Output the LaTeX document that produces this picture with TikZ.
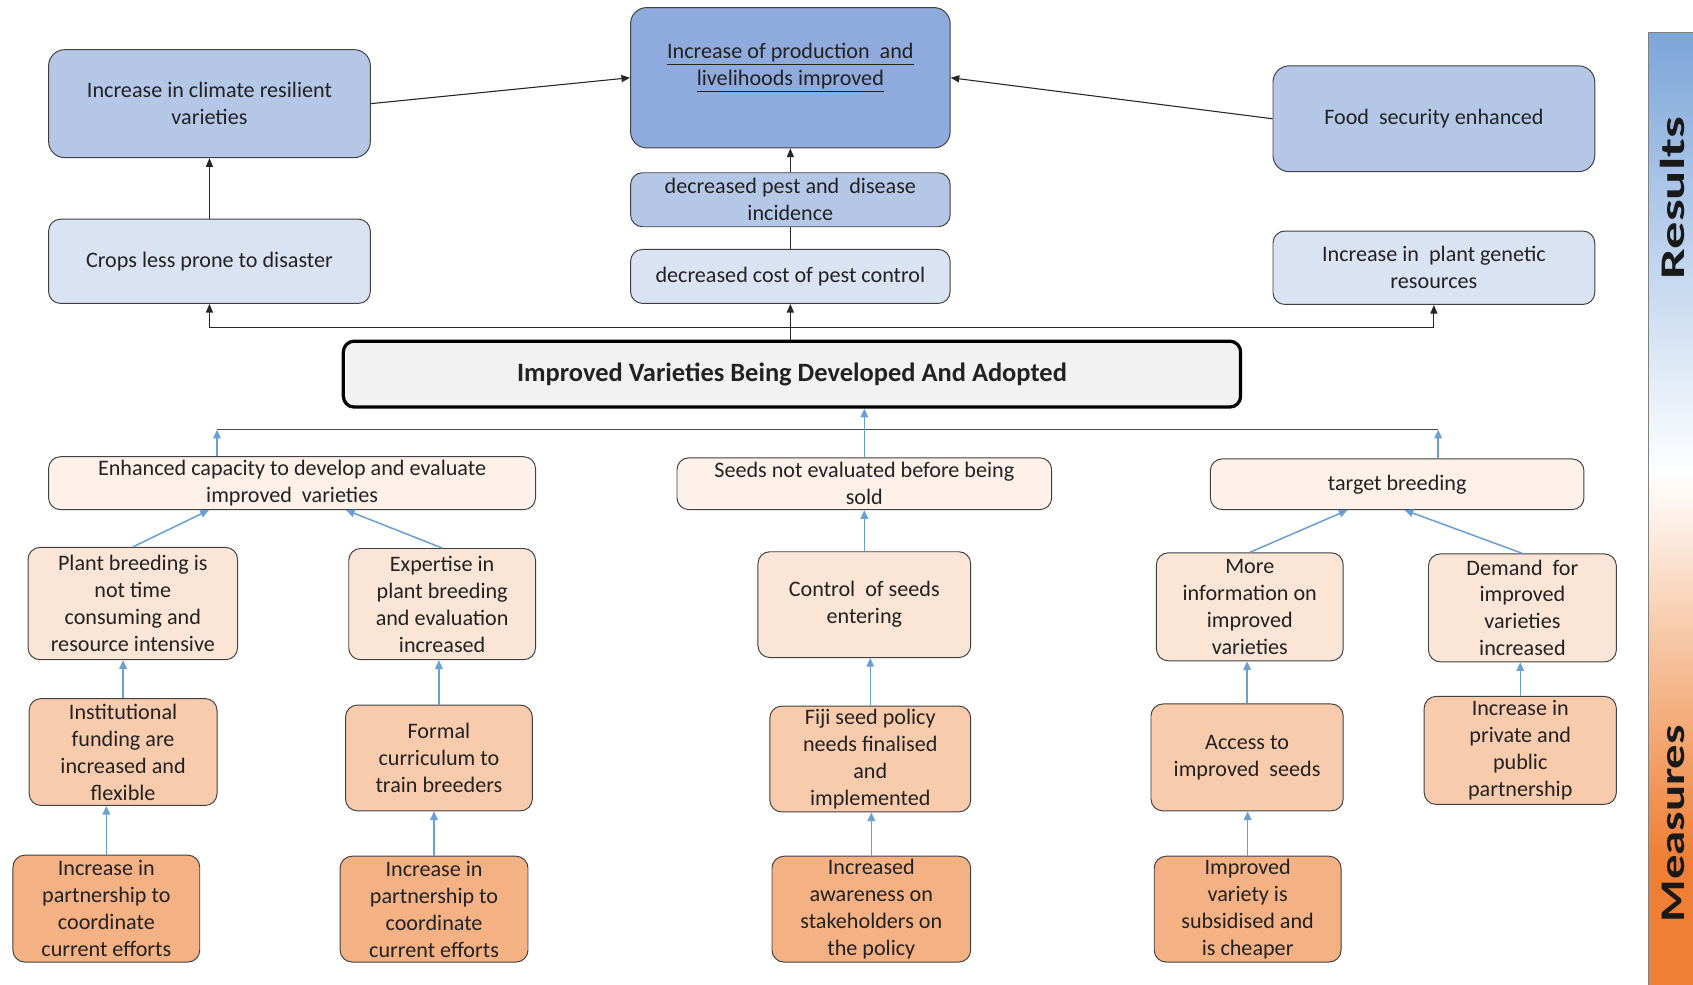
\documentclass[tikz,border=0pt]{standalone}
\usepackage{fontspec}
\usepackage{graphicx}
\setmainfont{Carlito}
\usetikzlibrary{arrows.meta}

\definecolor{txt}{HTML}{222222}
\definecolor{resA}{HTML}{8FAADC}
\definecolor{resB}{HTML}{B4C7E7}
\definecolor{resC}{HTML}{DAE3F3}
\definecolor{meaA}{HTML}{FDF1EA}
\definecolor{meaB}{HTML}{FBE5D6}
\definecolor{meaC}{HTML}{F8CBAD}
\definecolor{meaD}{HTML}{F4B183}
\definecolor{link}{HTML}{6A9FD4}
\definecolor{sbBlue}{HTML}{7CA5D9}
\definecolor{sbLight}{HTML}{C6D9F0}
\definecolor{sbPeach}{HTML}{F6C4A0}
\definecolor{sbOrange}{HTML}{EE7F35}

% side bar: orange at the bottom, white around the middle, blue at the top
\pgfdeclareverticalshading{sidebar}{100bp}{color(0bp)=(sbOrange); color(32bp)=(sbOrange); color(43bp)=(sbPeach); color(52bp)=(white); color(62bp)=(sbLight); color(75bp)=(sbBlue); color(100bp)=(sbBlue)}

\tikzset{
  box/.style={draw=black!75, line width=0.9pt, rounded corners=11pt, align=center,
    text=txt, inner sep=0pt, font=\fontsize{20.5}{25}\selectfont},
  bigbox/.style={box, rounded corners=15pt},
  blk/.style={draw=black!85, line width=1pt, -{Triangle[length=8pt,width=6.5pt]}},
  blkline/.style={draw=black!85, line width=1pt},
  blu/.style={draw=link, line width=1.4pt, -{Triangle[length=8pt,width=7pt]}},
  bus/.style={draw=black!70, line width=1pt},
  sidelabel/.style={rotate=90, anchor=base, inner sep=0pt, text=black!90,
    font=\bfseries\fontsize{32}{38}\selectfont},
}

\begin{document}
\begin{tikzpicture}[x=1pt,y=1pt]
\useasboundingbox (0,0) rectangle (1568,-912);

% ---------- results ----------
\node[bigbox, fill=resB, minimum width=298pt, minimum height=100pt] (clim) at (194,-96)
  {Increase in climate resilient\\varieties};
\node[bigbox, fill=resA, minimum width=296pt, minimum height=130pt] (prod) at (732,-72)
  {\underline{Increase of production\ \ and}\\\underline{livelihoods improved}\\[-8pt]\strut};
\node[bigbox, fill=resB, minimum width=298pt, minimum height=98pt] (food) at (1328,-110)
  {Food\ \ security enhanced};
\node[box, fill=resB, minimum width=296pt, minimum height=50pt] (pest) at (732,-185)
  {decreased pest and\ \ disease\\incidence};
\node[box, fill=resC, minimum width=296pt, minimum height=50pt] (cost) at (732,-256)
  {decreased cost of pest control};
\node[box, fill=resC, minimum width=298pt, minimum height=78pt] (crops) at (194,-242)
  {Crops less prone\ to disaster};
\node[box, fill=resC, minimum width=298pt, minimum height=68pt] (genetic) at (1328,-248)
  {Increase in\ \ plant genetic\\resources};

% ---------- core ----------
\node[box, draw=black, line width=3pt, rounded corners=10pt, fill=black!5,
  minimum width=831pt, minimum height=61pt, font=\bfseries\fontsize{24.5}{28}\selectfont] (core)
  at (733.5,-346.5) {Improved Varieties Being Developed And Adopted};

% ---------- measures ----------
\node[box, fill=meaA, minimum width=451pt, minimum height=49pt] (cap) at (270.5,-447.5)
  {Enhanced capacity to develop and evaluate\\improved\ \ varieties};
\node[box, fill=meaA, minimum width=347pt, minimum height=48pt] (seeds) at (800.5,-448)
  {Seeds not evaluated before being\\sold};
\node[box, fill=meaA, minimum width=346pt, minimum height=47pt] (target) at (1294,-448.5)
  {target breeding};

\node[box, fill=meaB, minimum width=194pt, minimum height=104pt] (plant) at (123,-559)
  {Plant breeding is\\not time\\consuming and\\resource intensive};
\node[box, fill=meaB, minimum width=173pt, minimum height=103pt] (expert) at (409.5,-559.5)
  {Expertise in\\plant breeding\\and evaluation\\increased};
\node[box, fill=meaB, minimum width=197pt, minimum height=98pt] (control) at (800.5,-560)
  {Control\ \ of seeds\\entering};
\node[box, fill=meaB, minimum width=173pt, minimum height=100pt] (info) at (1157.5,-562)
  {More\\information on\\improved\\varieties};
\node[box, fill=meaB, minimum width=174pt, minimum height=100pt] (demand) at (1410,-563)
  {Demand\ \ for\\improved\\varieties\\increased};

\node[box, fill=meaC, minimum width=174pt, minimum height=99pt] (inst) at (114,-696.5)
  {Institutional\\funding are\\increased and\\flexible};
\node[box, fill=meaC, minimum width=173pt, minimum height=98pt] (formal) at (406.5,-702)
  {Formal\\curriculum to\\train breeders};
\node[box, fill=meaC, minimum width=186pt, minimum height=98pt] (fiji) at (806,-703)
  {Fiji seed policy\\needs finalised\\and\\implemented};
\node[box, fill=meaC, minimum width=178pt, minimum height=99pt] (access) at (1155,-701.5)
  {Access to\\improved\ \ seeds};
\node[box, fill=meaC, minimum width=178pt, minimum height=100pt] (private) at (1408,-695)
  {Increase in\\private and\\public\\partnership};

\node[box, fill=meaD, minimum width=173pt, minimum height=99pt] (partA) at (98.5,-841.5)
  {Increase in\\partnership to\\coordinate\\current efforts};
\node[box, fill=meaD, minimum width=174pt, minimum height=98pt] (partB) at (402,-842)
  {Increase in\\partnership to\\coordinate\\current efforts};
\node[box, fill=meaD, minimum width=184pt, minimum height=98pt] (aware) at (807,-842)
  {Increased\\awareness on\\stakeholders on\\the policy};
\node[box, fill=meaD, minimum width=173pt, minimum height=98pt] (subsid) at (1155.5,-842)
  {Improved\\variety is\\subsidised and\\is cheaper};

% ---------- side bar ----------
\shade[shading=sidebar] (1527,-30) rectangle (1580,-920);
\draw[black!50, line width=0.8pt] (1527,-920) -- (1527,-30) -- (1580,-30);
\node[sidelabel] (resultsLabel) at (1560,-183.5) {\scalebox{1.58}[1]{Results}};
\node[sidelabel] (measuresLabel) at (1560,-763) {\scalebox{1.41}[1]{Measures}};

% ---------- result links ----------
\draw[blk] (clim.east) -- (prod.west);
\draw[blk] (food.west) -- (prod.east);
\draw[blk] (crops.north) -- (clim.south);
\draw[blk] (pest.north) -- (prod.south);
\draw[blkline] (cost.north) -- (pest.south);
\draw[blk] (cost.south |- core.north) -- (cost.south);
\coordinate (hub) at (732,-303);
\draw[blk] (hub) -| (crops.south);
\draw[blk] (hub) -| (genetic.south);

% ---------- measure links ----------
\coordinate (busL) at (201,-398);
\coordinate (busR) at (1332,-398);
\draw[bus] (busL) -- (busR);
\draw[blu] (cap.north -| busL) -- (busL);
\draw[blu] (target.north -| busR) -- (busR);
\draw[blu] (seeds.north) -- (seeds.north |- core.south);

\draw[blu] (plant.north) -- ([xshift=-77pt]cap.south);
\draw[blu] (expert.north) -- ([xshift=50pt]cap.south);
\draw[blu] (inst.north) -- (inst.north |- plant.south);
\draw[blu] (partA.north) -- (partA.north |- inst.south);
\draw[blu] (formal.north) -- (formal.north |- expert.south);
\draw[blu] (partB.north) -- (partB.north |- formal.south);

\draw[blu] (control.north) -- (seeds.south);
\draw[blu] (fiji.north) -- (fiji.north |- control.south);
\draw[blu] (aware.north) -- (aware.north |- fiji.south);

\draw[blu] (info.north) -- ([xshift=-46pt]target.south);
\draw[blu] (demand.north) -- ([xshift=7pt]target.south);
\draw[blu] (access.north) -- (access.north |- info.south);
\draw[blu] (subsid.north) -- (subsid.north |- access.south);
\draw[blu] (private.north) -- (private.north |- demand.south);
\end{tikzpicture}
\end{document}
